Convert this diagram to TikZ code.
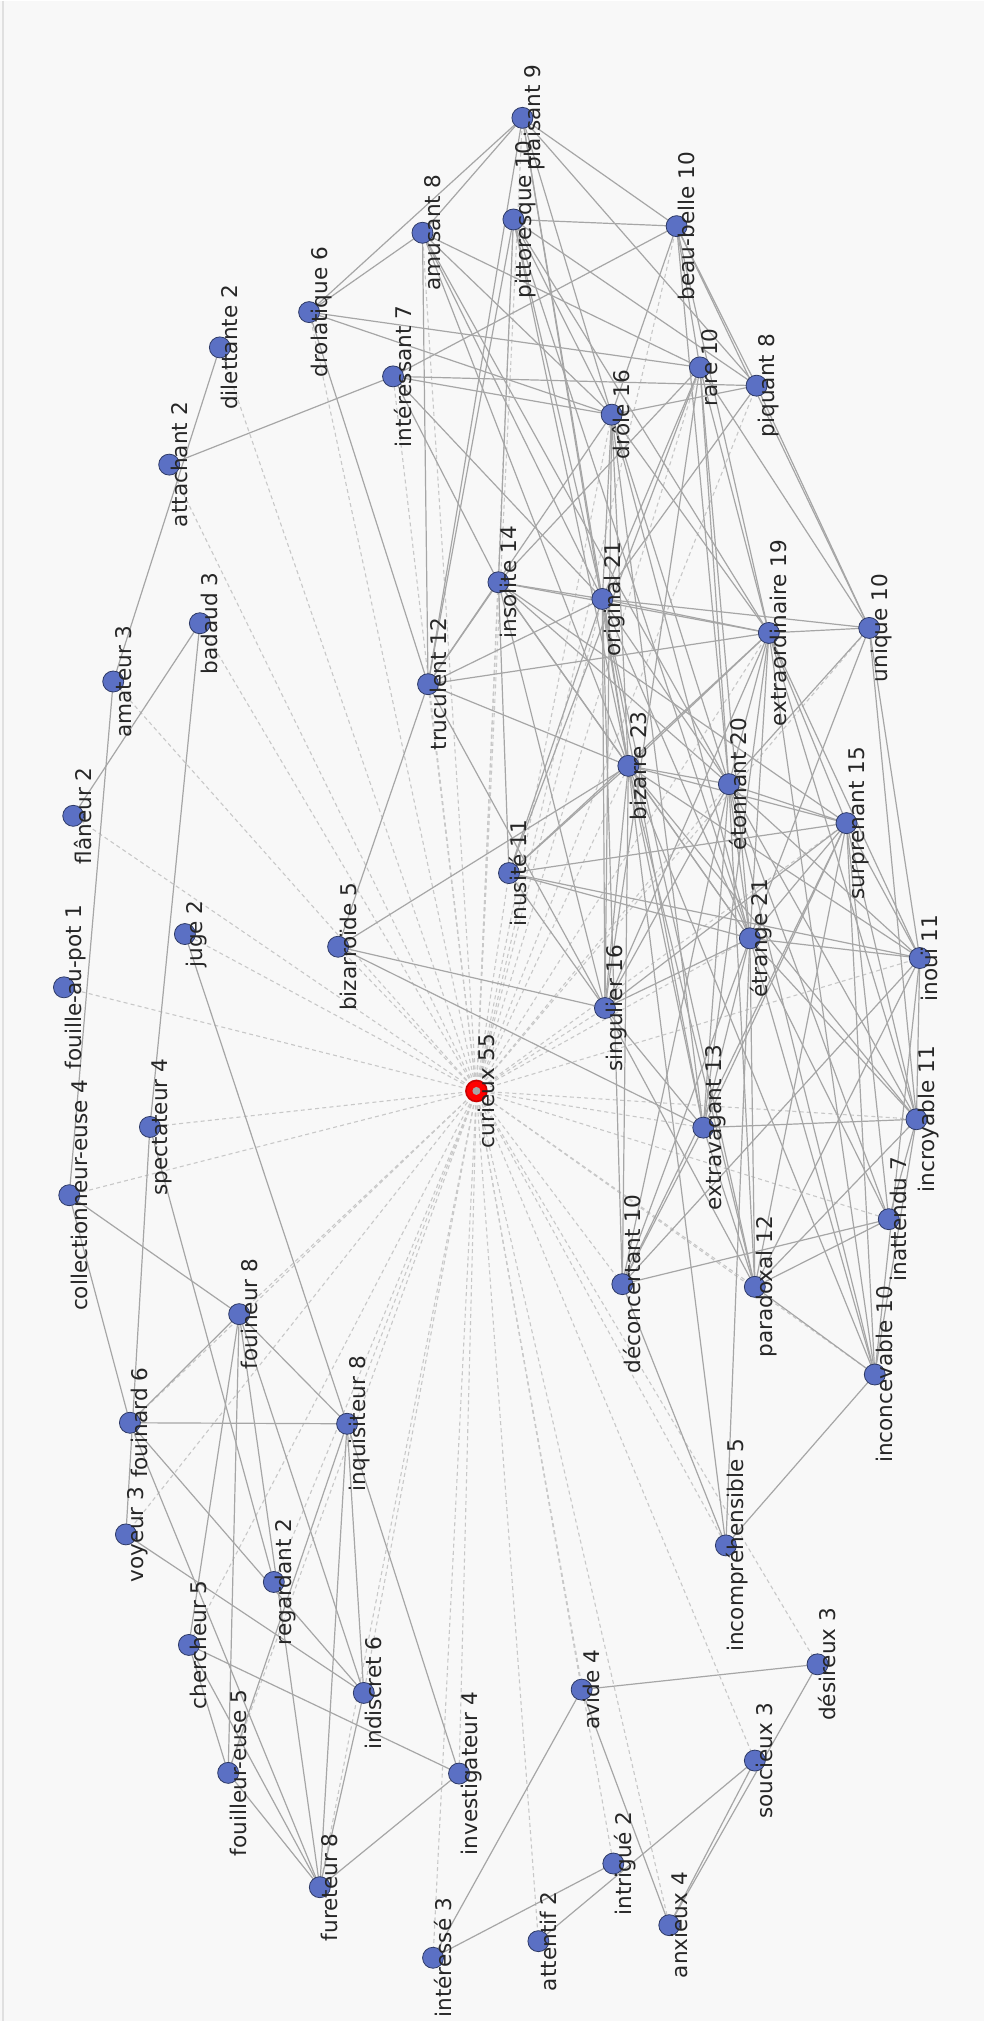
\documentclass[tikz,border=0pt]{standalone}
\usepackage{fontspec}
\setmainfont{DejaVu Sans}
\definecolor{bgcol}{HTML}{F8F8F8}
\definecolor{edgegray}{HTML}{A6A6A6}
\definecolor{dashgray}{HTML}{C8C8C8}
\definecolor{nodeblue}{HTML}{5B70C4}
\definecolor{nodeborder}{HTML}{2E3A66}
\definecolor{textcol}{HTML}{262626}
\pgfdeclarelayer{back}
\pgfdeclarelayer{bg}
\pgfsetlayers{back,bg,main}
\begin{document}
\begin{tikzpicture}[x=0.5pt,y=-0.5pt,
  edge/.style={draw=edgegray, line width=0.6pt},
  dedge/.style={draw=dashgray, line width=0.55pt, dash pattern=on 2pt off 1.6pt},
  vert/.style={circle, draw=nodeborder, fill=nodeblue, line width=0.4pt, minimum size=10.5pt, inner sep=0pt},
  lab/.style={rotate=90, anchor=base, font=\fontsize{10.8pt}{13pt}\selectfont, text=textcol, inner sep=0pt}]
\begin{pgfonlayer}{back}
\fill[bgcol] (0,0) rectangle (985,2022);
\draw[draw=black!12, line width=0.6pt] (3,0) -- (3,2022);
\end{pgfonlayer}
\useasboundingbox (0,0) rectangle (985,2022);
% vertices
\foreach \n/\x/\y in {pl/522.7/117.3, pi/513.7/219, am/422.7/232.3, bb/677/225.7, dl/309.3/311.7,
  di/220/347, it/393.3/376, ra/700.3/367, pq/757/385.3, dr/612/414.3, at/169.3/464.3,
  is/498.7/582, og/602.7/598.7, ex/769.3/632.7, un/869.7/627.7, ba/200/623, ama/113.3/681.3,
  tr/428.3/684, bz/628.7/765.7, et/729.3/784, su/847/823, fl/73.3/815.7, iu/509.3/873,
  eg/750.3/938.3, io/920.3/958, ju/185/934, bo/338.3/946.7, fp/64/987.3, sg/605.3/1008,
  ic/917/1119.3, sp/150/1127, ev/703.7/1127.7, co/69.3/1195.3, ia/889.3/1219.3,
  dc/622.7/1284.3, pa/755.3/1287, fn/239.3/1314.3, iv/875.3/1374.7, fd/130/1423,
  iq/347.3/1424, vo/126/1534.7, ip/726.3/1545.7, rg/274/1582.3, ch/189/1645.3,
  id/364/1693.3, de/818/1664.7, av/582/1690, fo/228.3/1773.3, ig/459.3/1774,
  so/755.3/1761, tg/613.7/1864, fu/320/1887.7, an/669.7/1925.7, af/538.7/1941.7,
  ie/433.3/1958.3}
  {\node[vert] (v\n) at (\x,\y) {};}
\node[circle, draw=red!80!black, fill=red, line width=0.8pt, minimum size=10.5pt, inner sep=0pt] (vcu) at (476.7,1091) {};
\node[circle, fill=black!35, minimum size=4pt, inner sep=0pt] (vcuc) at (vcu.center) {};
\begin{pgfonlayer}{bg}
\foreach \b in {pl,pi,am,bb,dl,di,it,ra,pq,dr,at,is,og,ex,un,ba,ama,tr,bz,et,su,fl,iu,eg,io,ju,bo,fp,sg,
  ic,sp,ev,co,ia,dc,pa,fn,iv,fd,iq,vo,ip,rg,ch,id,de,av,fo,ig,so,tg,fu,an,af,ie}
  {\draw[dedge] (vcu.center) -- (v\b.center);}
\foreach \a/\b in {di/ama, at/it, ama/co, ba/fl, ba/sp, ju/iq, iq/ig, sp/vo, sp/rg, vo/id, co/fn, co/fd,
  fd/iq, fd/id, fd/fn, fn/fu, fn/ch, ch/fo, ch/ig, fu/fo, fu/ig, fu/id, fu/iq, fu/fd, fu/ch, fn/iq,
  fn/id, fn/fo, iq/id, iq/fo,
  av/de, av/ie, av/an, ie/tg, af/so, an/so, an/de,
  bb/pi, bb/pl, bb/it, bb/ra, bb/pq, pi/pq, pl/pq, pl/dl, pl/am, it/pq,
  pl/tr, pl/dr, pl/og, pl/bz, pi/tr, pi/og, pi/is, pi/dr, pi/ex, pi/bz, pi/eg, am/tr, am/dr, am/og,
  am/bz, am/ra, am/et, dl/am, bb/dr, bb/ex, bb/un, bb/et, dl/dr, dl/tr, dl/ra, it/og, it/dr, it/is,
  ra/un, ra/ex, ra/sg, ra/iu, ra/og, ra/is, ra/et, ra/eg, pq/un, pq/og, pq/dr,
  tr/bo, bo/bz, bo/sg, bo/ev, ip/iv, ip/dc, ip/bz, ip/eg, iv/pa,
  eg/bz, eg/sg, eg/og, eg/is, eg/ev, eg/iu, eg/dr, eg/dc, eg/pa, eg/et, eg/su, eg/ex, eg/io, eg/ic,
  eg/ia, eg/iv, eg/un,
  bz/sg, bz/og, bz/is, bz/ev, bz/iu, bz/dr, bz/dc, bz/pa, bz/et, bz/su, bz/ex, bz/tr, bz/ic, bz/io, bz/iv,
  et/su, et/ex, et/io, et/ic, et/ia, et/iv, et/dc, et/pa, et/og, et/sg, et/is, et/dr, et/un, et/ev,
  ex/su, ex/io, ex/ic, ex/iv, ex/un, ex/og, ex/sg, ex/is, ex/ev, ex/tr, ex/iu, ex/dr,
  og/sg, og/is, og/ev, og/iu, og/dr, og/tr, og/un, og/pa, og/dc,
  su/io, su/ic, su/ia, su/iv, su/dc, su/pa, su/sg, su/is, su/iu, su/ev,
  sg/is, sg/ev, sg/iu, sg/dr, sg/tr, sg/pa, un/io,
  is/iu, is/tr, ev/dr, ev/pa, ev/dc, ev/ic, un/ic, iu/io, dr/tr,
  io/ic, io/iv, io/pa, io/dc, ic/iv, ic/ia, ic/pa, ia/dc, ia/pa}
  {\draw[edge] (v\a.center) -- (v\b.center);}
\end{pgfonlayer}
% labels
\foreach \n/\t in {pl/plaisant 9, pi/pittoresque 10, am/amusant 8, bb/beau-belle 10, dl/drolatique 6,
  di/dilettante 2, it/intéressant 7, ra/rare 10, pq/piquant 8, dr/drôle 16, at/attachant 2,
  is/insolite 14, og/original 21, ex/extraordinaire 19, un/unique 10, ba/badaud 3, ama/amateur 3,
  tr/truculent 12, bz/bizarre 23, et/étonnant 20, su/surprenant 15, fl/flâneur 2, iu/inusité 11,
  eg/étrange 21, io/inouï 11, ju/juge 2, bo/bizarroïde 5, fp/fouille-au-pot 1, sg/singulier 16,
  cu/curieux 55, ic/incroyable 11, sp/spectateur 4, ev/extravagant 13, co/collectionneur-euse 4,
  ia/inattendu 7, dc/déconcertant 10, pa/paradoxal 12, fn/fouineur 8, iv/inconcevable 10,
  fd/fouinard 6, iq/inquisiteur 8, vo/voyeur 3, ip/incompréhensible 5, rg/regardant 2,
  ch/chercheur 5, id/indiscret 6, de/désireux 3, av/avide 4, fo/fouilleur-euse 5,
  ig/investigateur 4, so/soucieux 3, tg/intrigué 2, fu/fureteur 8, an/anxieux 4, af/attentif 2,
  ie/intéressé 3}
  {\node[lab] (l\n) at ([xshift=9pt]v\n.center) {\t};}
\end{tikzpicture}
\end{document}
